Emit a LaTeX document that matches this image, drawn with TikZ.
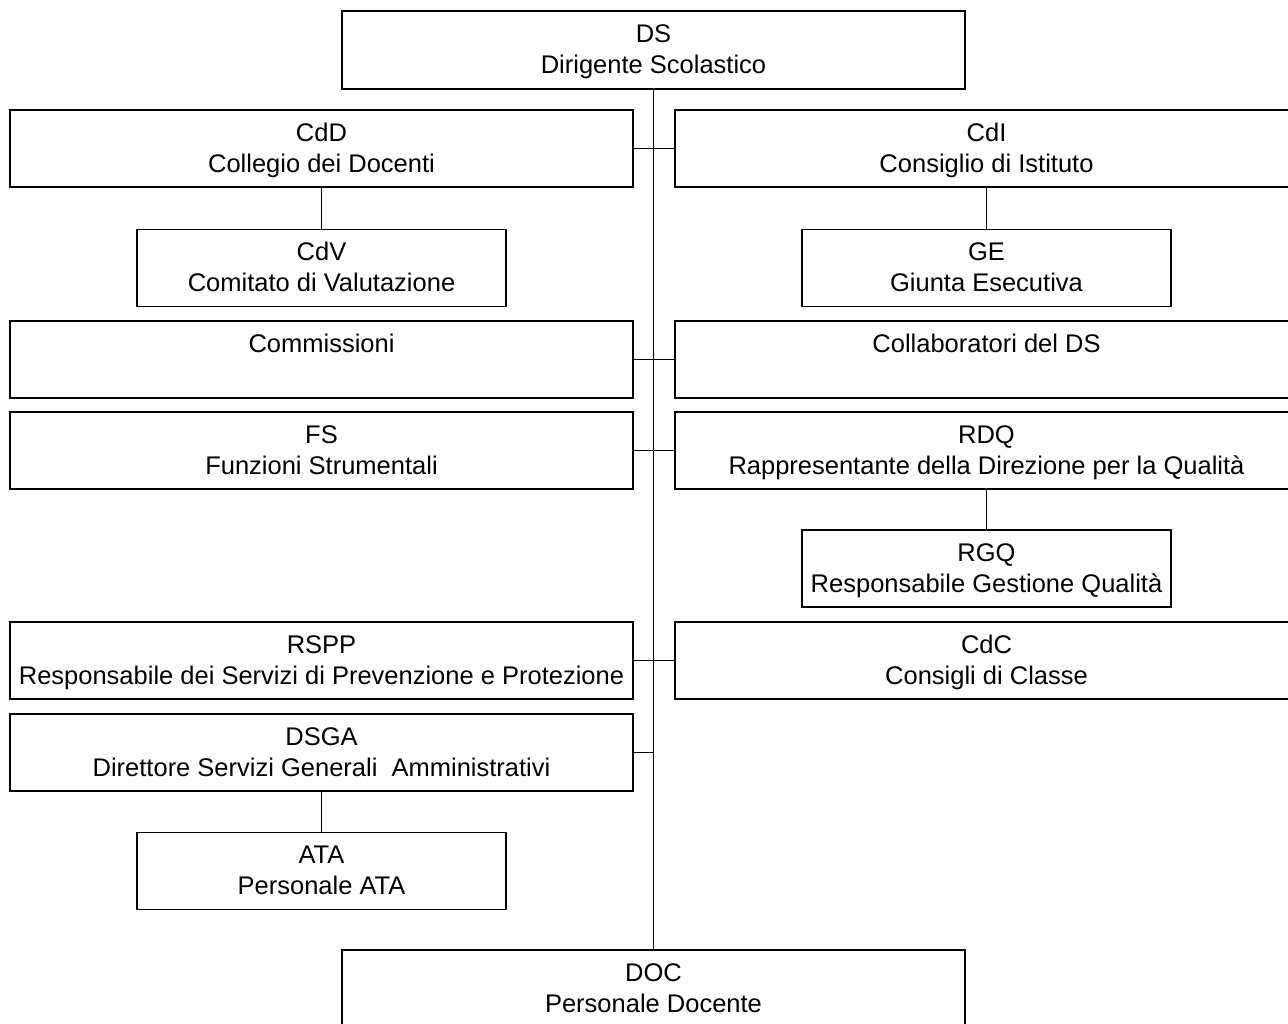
\documentclass[tikz,border=0pt]{standalone}
\usepackage{fontspec}
\setmainfont{Liberation Sans}
\newcommand\twolines[2]{\rule{0pt}{25.5pt}#1\\#2\strut}
\begin{document}
\begin{tikzpicture}[x=1pt,y=-1pt,
  box/.style={draw, line width=1.8pt, minimum width=623pt, minimum height=77pt,
    inner sep=0pt, align=center, font=\fontsize{25.5}{31}\selectfont},
  smallbox/.style={box, minimum width=369pt},
  link/.style={line width=1.8pt}]
\useasboundingbox (0,0) rectangle (1288,1023);
\clip (0,0) rectangle (1288,1023);
\node[box, minimum height=78pt] (DS) at (653.5,50) {\twolines{DS}{Dirigente Scolastico}};
\node[box] (CdD) at (321.5,148.5) {\twolines{CdD}{Collegio dei Docenti}};
\node[box] (CdI) at (986.5,148.5) {\twolines{CdI}{Consiglio di Istituto}};
\node[smallbox] (CdV) at (321.5,268) {\twolines{CdV}{Comitato di Valutazione}};
\node[smallbox] (GE) at (986.5,268) {\twolines{GE}{Giunta Esecutiva}};
\node[box] (Com) at (321.5,359.5) {\twolines{Commissioni}{}};
\node[box] (Col) at (986.5,359.5) {\twolines{Collaboratori del DS}{}};
\node[box] (FS) at (321.5,450.5) {\twolines{FS}{Funzioni Strumentali}};
\node[box] (RDQ) at (986.5,450.5) {\twolines{RDQ}{Rappresentante della Direzione per la Qualità}};
\node[smallbox] (RGQ) at (986.5,568.5) {\twolines{RGQ}{Responsabile Gestione Qualità}};
\node[box] (RSPP) at (321.5,660.5) {\twolines{RSPP}{Responsabile dei Servizi di Prevenzione e Protezione}};
\node[box] (CdC) at (986.5,660.5) {\twolines{CdC}{Consigli di Classe}};
\node[box] (DSGA) at (321.5,752.5) {\twolines{DSGA}{Direttore Servizi Generali~\ Amministrativi}};
\node[smallbox] (ATA) at (321.5,871) {\twolines{ATA}{Personale ATA}};
\node[box] (DOC) at (653.5,988.5) {\twolines{DOC}{Personale Docente}};
\draw[link] (DS.south) -- (DOC.north);
\draw[link] (CdD.east) -- (CdI.west);
\draw[link] (Com.east) -- (Col.west);
\draw[link] (FS.east) -- (RDQ.west);
\draw[link] (RSPP.east) -- (CdC.west);
\draw[link] (DSGA.east) -- (DSGA.east -| DS.south);
\draw[link] (CdD.south) -- (CdV.north);
\draw[link] (CdI.south) -- (GE.north);
\draw[link] (RDQ.south) -- (RGQ.north);
\draw[link] (DSGA.south) -- (ATA.north);
\end{tikzpicture}
\end{document}
